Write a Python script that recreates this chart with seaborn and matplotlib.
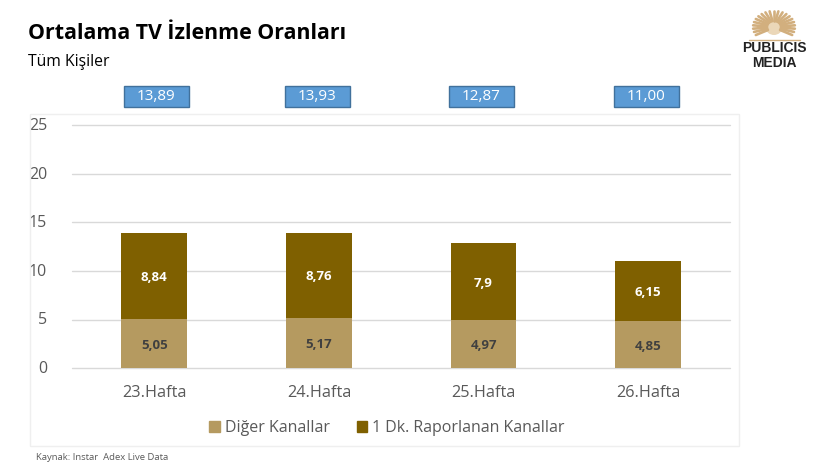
import numpy as np
import pandas as pd
import matplotlib
matplotlib.use("Agg")
import matplotlib.pyplot as plt
from matplotlib.patches import Rectangle, Patch, Ellipse
from matplotlib.lines import Line2D
from matplotlib.transforms import ScaledTranslation
import seaborn as sns

weeks = ["23.Hafta", "24.Hafta", "25.Hafta", "26.Hafta"]
diger = [5.05, 5.17, 4.97, 4.85]
dk1 = [8.84, 8.76, 7.9, 6.15]
totals = ["13,89", "13,93", "12,87", "11,00"]
diger_labels = ["5,05", "5,17", "4,97", "4,85"]
dk1_labels = ["8,84", "8,76", "7,9", "6,15"]
yticks = [0, 5, 10, 15, 20, 25]

sns.set_theme(style="white")
plt.rcParams['font.family'] = ['Open Sans', 'DejaVu Sans']

W, H = 824, 469
fig = plt.figure(figsize=(W/100, H/100), dpi=100, facecolor="white")
fx = lambda x: x / W
fy = lambda y: 1 - y / H

# outer chart frame
fig.add_artist(Rectangle((fx(30.5), fy(446)), (739-30.5)/W, (446-114)/H, transform=fig.transFigure,
                         fill=False, ec="#EFEFEF", lw=1.0))

ax = fig.add_axes([fx(72), fy(368), (730.5-72)/W, (368-125.5)/H])
df = pd.DataFrame({"week": weeks, "diger": diger, "dk1": dk1})
C1, C2 = "#B59A60", "#7F6000"
sns.barplot(data=df, x="week", y="diger", color=C1, width=0.4, saturation=1, ax=ax, zorder=3, linewidth=0)
sns.barplot(data=df, x="week", y="dk1", color=C2, width=0.4, saturation=1, bottom=df["diger"], ax=ax, zorder=3, linewidth=0)

ax.set_xlim(-0.5, 3.5)
ax.set_ylim(0, 25)
ax.set_yticks(yticks)
ax.set_xlabel("")
ax.set_ylabel("")
ax.grid(axis="y", color="#D9D9D9", lw=1.0, zorder=0)
ax.set_axisbelow(True)
for g in ax.get_ygridlines():
    g.set_clip_on(False)
sns.despine(ax=ax, left=True, bottom=True, top=True, right=True)
ax.tick_params(axis="y", length=0, pad=18, labelsize=11.5, labelcolor="#595959")
ax.tick_params(axis="x", length=0, pad=12, labelsize=11.7, labelcolor="#595959")
nudge = ScaledTranslation(0, 1.4/100, fig.dpi_scale_trans)
for t in ax.get_yticklabels():
    t.set_transform(t.get_transform() + nudge)

for i in range(len(weeks)):
    ax.annotate(diger_labels[i], (i, diger[i]/2), xytext=(0, -1.1), textcoords="offset points",
                ha="center", va="center", fontsize=9.5, fontweight="bold", color="#404040", zorder=5)
    ax.annotate(dk1_labels[i], (i, diger[i] + dk1[i]/2), xytext=(0, -1.1), textcoords="offset points",
                ha="center", va="center", fontsize=9.5, fontweight="bold", color="white", zorder=5)

# total boxes sit slightly off the category centres, as hand-placed shapes
box_left = [124.3, 285.3, 449.3, 614.3]
box_w, box_top, box_bot = 64.4, 86.5, 107.5
for s, left in zip(totals, box_left):
    fig.add_artist(Rectangle((fx(left), fy(box_bot)), box_w/W, (box_bot-box_top)/H, transform=fig.transFigure,
                             fc="#5B9BD5", ec="#41719C", lw=1.0, zorder=5))
    fig.text(fx(left + box_w/2), fy(97), s, ha="center", va="center", fontsize=11,
             color="white", zorder=6)

handles = [Patch(color=C1, label="Diğer Kanallar"), Patch(color=C2, label="1 Dk. Raporlanan Kanallar")]
fig.legend(handles=handles, loc="center", bbox_to_anchor=(fx(387), fy(428)), ncol=2, frameon=False,
           fontsize=11.5, labelcolor="#595959", handlelength=0.66, handleheight=0.66,
           handletextpad=0.3, columnspacing=1.7)

fig.text(fx(28.5), fy(33.5), "Ortalama TV İzlenme Oranları", fontsize=15.4, fontweight="bold",
         color="black", ha="left", va="center")
fig.text(fx(28.5), fy(61.5), "Tüm Kişiler", fontsize=11.3, color="black", ha="left", va="center")
fig.text(fx(36.5), fy(457), "Kaynak: Instar  Adex Live Data", fontsize=6.8, color="#595959", ha="left", va="center")

# logo
lx, ly = 774, 27
for a in np.deg2rad(np.arange(-30, 211, 12)):
    fig.add_artist(Line2D([fx(lx + 7*np.cos(a)), fx(lx + 21*np.cos(a))],
                          [fy(ly - 6*np.sin(a)), fy(ly - 16*np.sin(a))],
                          transform=fig.transFigure, color="#D2AF7E", lw=1.9))
fig.add_artist(Ellipse((fx(lx), fy(ly + 1)), 16/W, 14/H, transform=fig.transFigure, fc="#EBD7B8", ec="none"))
fig.add_artist(Line2D([fx(749), fx(800)], [fy(40.5), fy(40.5)], transform=fig.transFigure, color="#D2AF7E", lw=1.0))
fig.text(fx(774), fy(48.5), "PUBLICIS", fontsize=10, fontweight="bold", color="#222222", ha="center", va="center", family="Liberation Sans")
fig.text(fx(774), fy(63), "MEDIA", fontsize=10, fontweight="bold", color="#222222", ha="center", va="center", family="Liberation Sans")

fig.savefig("out.png", dpi=100, facecolor="white")
